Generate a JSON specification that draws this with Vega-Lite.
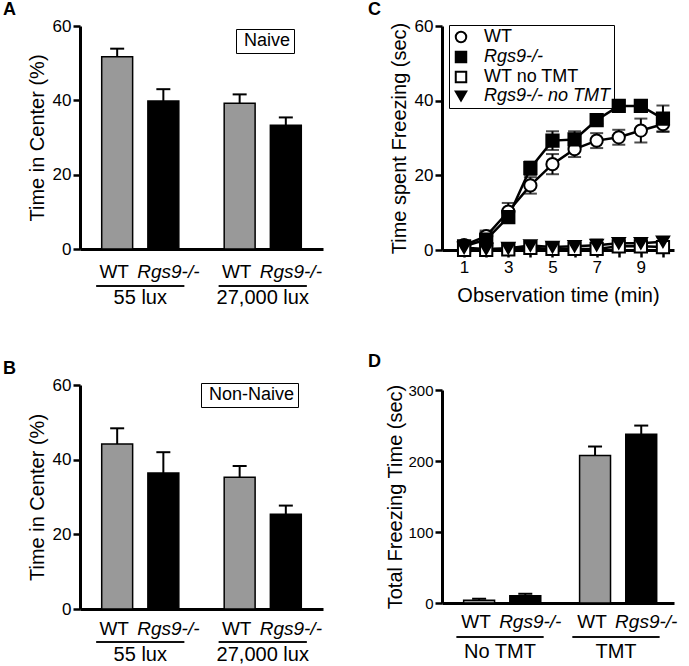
{
  "$schema": "https://vega.github.io/schema/vega-lite/v6.json",
  "background": "white",
  "padding": {"left": 3, "top": 1, "right": 0, "bottom": 0},
  "config": {
    "font": "Liberation Sans",
    "view": {"stroke": null},
    "axis": {"domainColor": "black", "domainWidth": 3, "tickColor": "black", "tickWidth": 2.5, "tickSize": 7, "labelColor": "black", "titleColor": "black", "labelFontSize": 17, "titleFontSize": 20, "titleFontWeight": "normal", "grid": false, "labelPadding": 2, "titlePadding": 5},
    "title": {"anchor": "start", "frame": "group", "fontSize": 18, "fontWeight": "bold", "color": "black", "offset": -2},
    "legend": {"labelColor": "black"}
  },
  "spacing": 45,
  "resolve": {"scale": {"shape": "independent", "fill": "independent", "stroke": "independent"}, "legend": {"shape": "independent", "fill": "independent", "stroke": "independent"}},
  "hconcat": [
    {
      "spacing": 53,
      "resolve": {"scale": {"shape": "independent", "fill": "independent"}, "legend": {"shape": "independent", "fill": "independent"}},
      "vconcat": [
        {
          "width": 243, "height": 223,
          "title": {"text": "A", "dx": -77},
          "data": {"values": [
            {"lux": "55 lux", "geno": "WT", "mean": 51.7, "hi": 53.9},
            {"lux": "55 lux", "geno": "Rgs9-/-", "mean": 39.8, "hi": 43.0},
            {"lux": "27,000 lux", "geno": "WT", "mean": 39.2, "hi": 41.6},
            {"lux": "27,000 lux", "geno": "Rgs9-/-", "mean": 33.3, "hi": 35.4}
          ]},
          "encoding": {
            "x": {"field": "lux", "type": "nominal", "sort": ["55 lux", "27,000 lux"], "scale": {"paddingInner": 0.246, "paddingOuter": 0.115}, "axis": {"title": null, "ticks": false, "tickSize": 0, "labelAngle": 0, "labelPadding": 38, "labelFontSize": 20}}
          },
          "layer": [
            {"mark": {"type": "bar", "stroke": "black", "strokeWidth": 1.5},
             "encoding": {
               "xOffset": {"field": "geno", "type": "nominal", "scale": {"domain": ["WT", "Rgs9-/-"], "paddingInner": 0.33, "paddingOuter": 0.165}},
               "y": {"field": "mean", "type": "quantitative", "scale": {"domain": [0, 60], "nice": false}, "axis": {"title": "Time in Center (%)", "values": [0, 10, 20, 30, 40, 50, 60], "labelExpr": "datum.value % 20 == 0 ? datum.label : ''"}},
               "fill": {"field": "geno", "type": "nominal", "scale": {"domain": ["WT", "Rgs9-/-"], "range": ["#999999", "#000000"]}, "legend": null}
             }},
            {"mark": {"type": "rule", "strokeWidth": 2, "color": "black"},
             "encoding": {
               "xOffset": {"field": "geno", "type": "nominal", "scale": {"domain": ["WT", "Rgs9-/-"]}},
               "y": {"field": "mean", "type": "quantitative", "title": "Time in Center (%)"}, "y2": {"field": "hi"}
             }},
            {"mark": {"type": "tick", "size": 14, "thickness": 2, "color": "black", "opacity": 1},
             "encoding": {
               "xOffset": {"field": "geno", "type": "nominal", "scale": {"domain": ["WT", "Rgs9-/-"]}},
               "y": {"field": "hi", "type": "quantitative", "title": "Time in Center (%)"}
             }},
            {"transform": [{"filter": "datum.geno == 'WT'"}],
             "mark": {"type": "text", "baseline": "top", "dy": 14, "dx": -3, "fontSize": 19, "color": "black"},
             "encoding": {"xOffset": {"field": "geno", "type": "nominal", "scale": {"domain": ["WT", "Rgs9-/-"]}}, "y": {"datum": 0}, "text": {"field": "geno"}}},
            {"transform": [{"filter": "datum.geno != 'WT'"}],
             "mark": {"type": "text", "baseline": "top", "dy": 14, "dx": 5, "fontSize": 19, "fontStyle": "italic", "color": "black"},
             "encoding": {"xOffset": {"field": "geno", "type": "nominal", "scale": {"domain": ["WT", "Rgs9-/-"]}}, "y": {"datum": 0}, "text": {"field": "geno"}}},
            {"mark": {"type": "tick", "size": 88, "thickness": 1.5, "yOffset": 37, "color": "black", "opacity": 1},
             "encoding": {"y": {"datum": 0}}},
            {"mark": {"type": "point", "opacity": 0},
             "encoding": {"shape": {"datum": "Naive", "legend": {"title": null, "orient": "none", "legendX": 156, "legendY": 3, "strokeColor": "black", "padding": 3, "labelFontSize": 18, "symbolSize": 0, "symbolOpacity": 0, "symbolStrokeWidth": 0, "labelOffset": -13, "labelExpr": "' ' + datum.label + ' '"}}}}
          ]
        },
        {
          "width": 243, "height": 224,
          "title": {"text": "B", "dx": -77},
          "data": {"values": [
            {"lux": "55 lux", "geno": "WT", "mean": 44.2, "hi": 48.4},
            {"lux": "55 lux", "geno": "Rgs9-/-", "mean": 36.4, "hi": 42.0},
            {"lux": "27,000 lux", "geno": "WT", "mean": 35.3, "hi": 38.3},
            {"lux": "27,000 lux", "geno": "Rgs9-/-", "mean": 25.4, "hi": 27.7}
          ]},
          "encoding": {
            "x": {"field": "lux", "type": "nominal", "sort": ["55 lux", "27,000 lux"], "scale": {"paddingInner": 0.246, "paddingOuter": 0.115}, "axis": {"title": null, "ticks": false, "tickSize": 0, "labelAngle": 0, "labelPadding": 35, "labelFontSize": 20}}
          },
          "layer": [
            {"mark": {"type": "bar", "stroke": "black", "strokeWidth": 1.5},
             "encoding": {
               "xOffset": {"field": "geno", "type": "nominal", "scale": {"domain": ["WT", "Rgs9-/-"], "paddingInner": 0.33, "paddingOuter": 0.165}},
               "y": {"field": "mean", "type": "quantitative", "scale": {"domain": [0, 60], "nice": false}, "axis": {"title": "Time in Center (%)", "values": [0, 10, 20, 30, 40, 50, 60], "labelExpr": "datum.value % 20 == 0 ? datum.label : ''"}},
               "fill": {"field": "geno", "type": "nominal", "scale": {"domain": ["WT", "Rgs9-/-"], "range": ["#999999", "#000000"]}, "legend": null}
             }},
            {"mark": {"type": "rule", "strokeWidth": 2, "color": "black"},
             "encoding": {
               "xOffset": {"field": "geno", "type": "nominal", "scale": {"domain": ["WT", "Rgs9-/-"]}},
               "y": {"field": "mean", "type": "quantitative", "title": "Time in Center (%)"}, "y2": {"field": "hi"}
             }},
            {"mark": {"type": "tick", "size": 14, "thickness": 2, "color": "black", "opacity": 1},
             "encoding": {
               "xOffset": {"field": "geno", "type": "nominal", "scale": {"domain": ["WT", "Rgs9-/-"]}},
               "y": {"field": "hi", "type": "quantitative", "title": "Time in Center (%)"}
             }},
            {"transform": [{"filter": "datum.geno == 'WT'"}],
             "mark": {"type": "text", "baseline": "top", "dy": 11, "dx": -3, "fontSize": 19, "color": "black"},
             "encoding": {"xOffset": {"field": "geno", "type": "nominal", "scale": {"domain": ["WT", "Rgs9-/-"]}}, "y": {"datum": 0}, "text": {"field": "geno"}}},
            {"transform": [{"filter": "datum.geno != 'WT'"}],
             "mark": {"type": "text", "baseline": "top", "dy": 11, "dx": 5, "fontSize": 19, "fontStyle": "italic", "color": "black"},
             "encoding": {"xOffset": {"field": "geno", "type": "nominal", "scale": {"domain": ["WT", "Rgs9-/-"]}}, "y": {"datum": 0}, "text": {"field": "geno"}}},
            {"mark": {"type": "tick", "size": 88, "thickness": 1.5, "yOffset": 33, "color": "black", "opacity": 1},
             "encoding": {"y": {"datum": 0}}},
            {"mark": {"type": "point", "opacity": 0},
             "encoding": {"shape": {"datum": "Non-Naive", "legend": {"title": null, "orient": "none", "legendX": 121, "legendY": -2, "strokeColor": "black", "padding": 3, "labelFontSize": 18, "symbolSize": 0, "symbolOpacity": 0, "symbolStrokeWidth": 0, "labelOffset": -13}}}}
          ]
        }
      ]
    },
    {
      "spacing": 48,
      "resolve": {"scale": {"shape": "independent", "fill": "independent", "stroke": "independent"}, "legend": {"shape": "independent", "fill": "independent", "stroke": "independent"}},
      "vconcat": [
        {
          "width": 232, "height": 224,
          "title": {"text": "C", "dx": -74},
          "data": {"values": [
            {"t": 1, "grp": "WT", "mean": 1.3, "err": 0.8},
            {"t": 2, "grp": "WT", "mean": 3.7, "err": 1.5},
            {"t": 3, "grp": "WT", "mean": 10.3, "err": 2.3},
            {"t": 4, "grp": "WT", "mean": 17.3, "err": 2.2},
            {"t": 5, "grp": "WT", "mean": 23.0, "err": 2.7},
            {"t": 6, "grp": "WT", "mean": 27.0, "err": 2.1},
            {"t": 7, "grp": "WT", "mean": 29.3, "err": 2.0},
            {"t": 8, "grp": "WT", "mean": 30.2, "err": 2.0},
            {"t": 9, "grp": "WT", "mean": 32.0, "err": 3.2},
            {"t": 10, "grp": "WT", "mean": 33.7, "err": 2.0},
            {"t": 1, "grp": "Rgs9-/-", "mean": 1.0, "err": 0.8},
            {"t": 2, "grp": "Rgs9-/-", "mean": 2.8, "err": 2.0},
            {"t": 3, "grp": "Rgs9-/-", "mean": 8.8, "err": 1.5},
            {"t": 4, "grp": "Rgs9-/-", "mean": 21.9, "err": 1.8},
            {"t": 5, "grp": "Rgs9-/-", "mean": 29.3, "err": 2.5},
            {"t": 6, "grp": "Rgs9-/-", "mean": 29.6, "err": 2.2},
            {"t": 7, "grp": "Rgs9-/-", "mean": 34.8, "err": 1.0},
            {"t": 8, "grp": "Rgs9-/-", "mean": 38.6, "err": 1.2},
            {"t": 9, "grp": "Rgs9-/-", "mean": 38.6, "err": 1.2},
            {"t": 10, "grp": "Rgs9-/-", "mean": 35.2, "err": 3.5},
            {"t": 1, "grp": "WT no TMT", "mean": 0.0, "err": 0.5},
            {"t": 2, "grp": "WT no TMT", "mean": 0.0, "err": 0.5},
            {"t": 3, "grp": "WT no TMT", "mean": 0.2, "err": 0.8},
            {"t": 4, "grp": "WT no TMT", "mean": 0.6, "err": 0.8},
            {"t": 5, "grp": "WT no TMT", "mean": 0.3, "err": 0.8},
            {"t": 6, "grp": "WT no TMT", "mean": 0.3, "err": 0.8},
            {"t": 7, "grp": "WT no TMT", "mean": 0.3, "err": 1.0},
            {"t": 8, "grp": "WT no TMT", "mean": 1.0, "err": 1.0},
            {"t": 9, "grp": "WT no TMT", "mean": 1.0, "err": 1.0},
            {"t": 10, "grp": "WT no TMT", "mean": 0.8, "err": 1.0},
            {"t": 1, "grp": "Rgs9-/- no TMT", "mean": 0.6, "err": 0.6},
            {"t": 2, "grp": "Rgs9-/- no TMT", "mean": 0.3, "err": 0.5},
            {"t": 3, "grp": "Rgs9-/- no TMT", "mean": 0.5, "err": 0.8},
            {"t": 4, "grp": "Rgs9-/- no TMT", "mean": 1.2, "err": 0.8},
            {"t": 5, "grp": "Rgs9-/- no TMT", "mean": 0.8, "err": 0.8},
            {"t": 6, "grp": "Rgs9-/- no TMT", "mean": 1.0, "err": 1.2},
            {"t": 7, "grp": "Rgs9-/- no TMT", "mean": 1.3, "err": 1.5},
            {"t": 8, "grp": "Rgs9-/- no TMT", "mean": 1.8, "err": 1.2},
            {"t": 9, "grp": "Rgs9-/- no TMT", "mean": 1.8, "err": 1.3},
            {"t": 10, "grp": "Rgs9-/- no TMT", "mean": 2.2, "err": 1.2}
          ]},
          "encoding": {
            "x": {"field": "t", "type": "quantitative", "scale": {"domain": [0, 10.5], "nice": false, "zero": false}, "axis": {"title": "Observation time (min)", "values": [1, 2, 3, 4, 5, 6, 7, 8, 9, 10], "labelExpr": "datum.value % 2 == 1 ? datum.label : ''", "titlePadding": 10, "labelFontSize": 17}}
          },
          "layer": [
            {"mark": {"type": "errorbar", "color": "black", "thickness": 2, "ticks": {"size": 13, "thickness": 2}},
             "encoding": {"y": {"field": "mean", "type": "quantitative", "title": "Time spent Freezing (sec)"}, "yError": {"field": "err"}, "detail": {"field": "grp"}}},
            {"mark": {"type": "line", "color": "black", "strokeWidth": 2.5},
             "encoding": {"y": {"field": "mean", "type": "quantitative", "scale": {"domain": [0, 60], "nice": false}, "axis": {"title": "Time spent Freezing (sec)", "values": [0, 10, 20, 30, 40, 50, 60], "labelExpr": "datum.value % 20 == 0 ? datum.label : ''"}}, "detail": {"field": "grp"}}},
            {"mark": {"type": "point", "filled": true, "strokeWidth": 2, "size": 150, "opacity": 1},
             "encoding": {
               "y": {"field": "mean", "type": "quantitative", "title": "Time spent Freezing (sec)"},
               "shape": {"field": "grp", "type": "nominal", "scale": {"domain": ["WT", "Rgs9-/-", "WT no TMT", "Rgs9-/- no TMT"], "range": ["circle", "square", "square", "triangle-down"]}, "legend": {"title": null, "orient": "none", "legendX": 7, "legendY": -1, "strokeColor": "black", "padding": 3, "labelFontSize": 18, "rowPadding": 0, "symbolSize": 110, "symbolStrokeWidth": 2, "labelOffset": 14, "labelFontStyle": {"expr": "indexof(datum.label, 'Rgs9') >= 0 ? 'italic' : 'normal'"}}},
               "fill": {"field": "grp", "type": "nominal", "scale": {"domain": ["WT", "Rgs9-/-", "WT no TMT", "Rgs9-/- no TMT"], "range": ["white", "black", "white", "black"]}, "legend": {"title": null, "orient": "none", "legendX": 7, "legendY": -1, "strokeColor": "black", "padding": 3, "labelFontSize": 18, "rowPadding": 0, "symbolSize": 110, "symbolStrokeWidth": 2, "labelOffset": 14, "labelFontStyle": {"expr": "indexof(datum.label, 'Rgs9') >= 0 ? 'italic' : 'normal'"}}},
               "stroke": {"field": "grp", "type": "nominal", "scale": {"domain": ["WT", "Rgs9-/-", "WT no TMT", "Rgs9-/- no TMT"], "range": ["black", "black", "black", "black"]}, "legend": {"title": null, "orient": "none", "legendX": 7, "legendY": -1, "strokeColor": "black", "padding": 3, "labelFontSize": 18, "rowPadding": 0, "symbolSize": 110, "symbolStrokeWidth": 2, "labelOffset": 14, "labelFontStyle": {"expr": "indexof(datum.label, 'Rgs9') >= 0 ? 'italic' : 'normal'"}}}
             }}
          ]
        },
        {
          "width": 232, "height": 213,
          "title": {"text": "D", "dx": -74, "offset": 12},
          "data": {"values": [
            {"tmt": "No TMT", "geno": "WT", "mean": 3.7, "hi": 6.0},
            {"tmt": "No TMT", "geno": "Rgs9-/-", "mean": 10.3, "hi": 13.0},
            {"tmt": "TMT", "geno": "WT", "mean": 207.8, "hi": 220.4},
            {"tmt": "TMT", "geno": "Rgs9-/-", "mean": 237.7, "hi": 249.9}
          ]},
          "encoding": {
            "x": {"field": "tmt", "type": "nominal", "sort": ["No TMT", "TMT"], "scale": {"paddingInner": 0.241, "paddingOuter": 0.121}, "axis": {"title": null, "ticks": false, "tickSize": 0, "labelAngle": 0, "labelPadding": 38, "labelFontSize": 20}}
          },
          "layer": [
            {"mark": {"type": "bar", "stroke": "black", "strokeWidth": 1.5},
             "encoding": {
               "xOffset": {"field": "geno", "type": "nominal", "scale": {"domain": ["WT", "Rgs9-/-"], "paddingInner": 0.34, "paddingOuter": 0.17}},
               "y": {"field": "mean", "type": "quantitative", "scale": {"domain": [0, 300], "nice": false}, "axis": {"title": "Total Freezing Time (sec)", "values": [0, 50, 100, 150, 200, 250, 300], "labelExpr": "datum.value % 100 == 0 ? datum.label : ''", "labelFontSize": 15, "titlePadding": 2}},
               "fill": {"field": "geno", "type": "nominal", "scale": {"domain": ["WT", "Rgs9-/-"], "range": ["#999999", "#000000"]}, "legend": null}
             }},
            {"mark": {"type": "rule", "strokeWidth": 2, "color": "black"},
             "encoding": {
               "xOffset": {"field": "geno", "type": "nominal", "scale": {"domain": ["WT", "Rgs9-/-"]}},
               "y": {"field": "mean", "type": "quantitative", "title": "Total Freezing Time (sec)"}, "y2": {"field": "hi"}
             }},
            {"mark": {"type": "tick", "size": 14, "thickness": 2, "color": "black", "opacity": 1},
             "encoding": {
               "xOffset": {"field": "geno", "type": "nominal", "scale": {"domain": ["WT", "Rgs9-/-"]}},
               "y": {"field": "hi", "type": "quantitative", "title": "Total Freezing Time (sec)"}
             }},
            {"transform": [{"filter": "datum.geno == 'WT'"}],
             "mark": {"type": "text", "baseline": "top", "dy": 10, "dx": -3, "fontSize": 19, "color": "black"},
             "encoding": {"xOffset": {"field": "geno", "type": "nominal", "scale": {"domain": ["WT", "Rgs9-/-"]}}, "y": {"datum": 0}, "text": {"field": "geno"}}},
            {"transform": [{"filter": "datum.geno != 'WT'"}],
             "mark": {"type": "text", "baseline": "top", "dy": 10, "dx": 5, "fontSize": 19, "fontStyle": "italic", "color": "black"},
             "encoding": {"xOffset": {"field": "geno", "type": "nominal", "scale": {"domain": ["WT", "Rgs9-/-"]}}, "y": {"datum": 0}, "text": {"field": "geno"}}},
            {"mark": {"type": "tick", "size": 87, "thickness": 1.5, "yOffset": 34, "color": "black", "opacity": 1},
             "encoding": {"y": {"datum": 0}}}
          ]
        }
      ]
    }
  ]
}
